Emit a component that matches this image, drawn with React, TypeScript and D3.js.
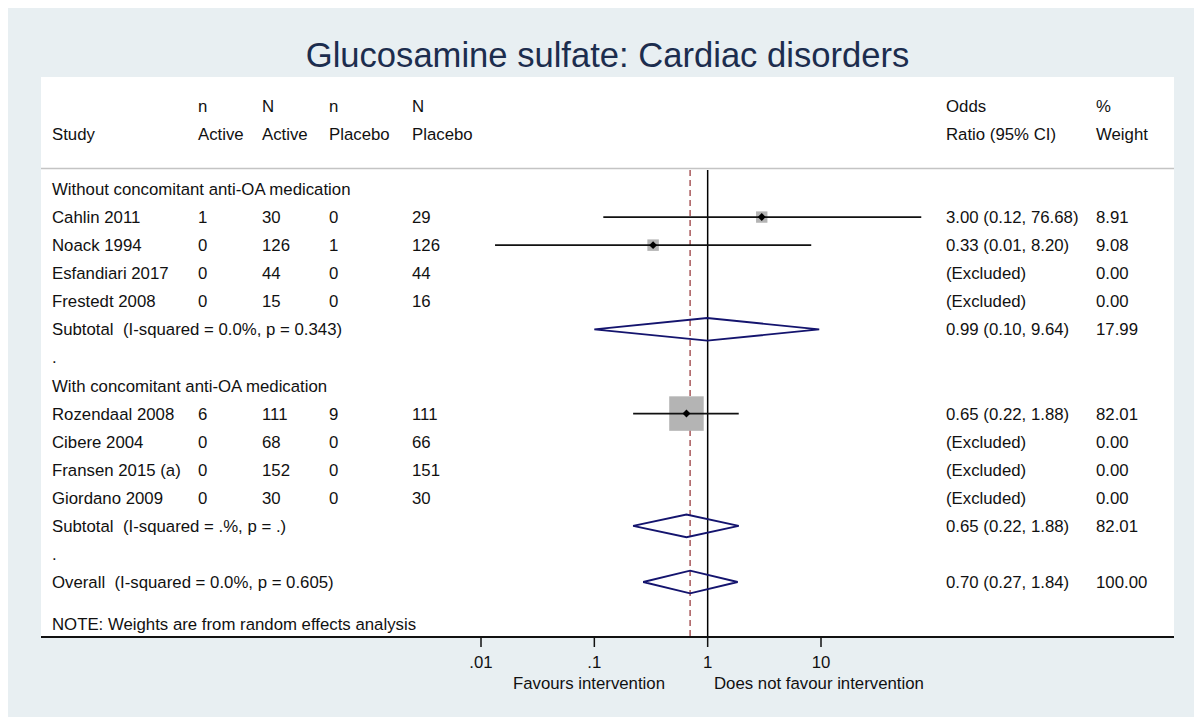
import * as React from "react";
import * as d3 from "d3";

// rows of the forest plot, top to bottom
const rowLabels: string[] = [
    "Without concomitant anti-OA medication",
    "Cahlin 2011",
    "Noack 1994",
    "Esfandiari 2017",
    "Frestedt 2008",
    "Subtotal  (I-squared = 0.0%, p = 0.343)",
    ".",
    "With concomitant anti-OA medication",
    "Rozendaal 2008",
    "Cibere 2004",
    "Fransen 2015 (a)",
    "Giordano 2009",
    "Subtotal  (I-squared = .%, p = .)",
    ".",
    "Overall  (I-squared = 0.0%, p = 0.605)"
];
const rowTypes: string[] = [
    "group", "study", "study", "study", "study", "subtotal", "gap",
    "group", "study", "study", "study", "study", "subtotal", "gap", "overall"
];
const nActive: string[] = ["", "1", "0", "0", "0", "", "", "", "6", "0", "0", "0", "", "", ""];
const bigNActive: string[] = ["", "30", "126", "44", "15", "", "", "", "111", "68", "152", "30", "", "", ""];
const nPlacebo: string[] = ["", "0", "1", "0", "0", "", "", "", "9", "0", "0", "0", "", "", ""];
const bigNPlacebo: string[] = ["", "29", "126", "44", "16", "", "", "", "111", "66", "151", "30", "", "", ""];
const oddsRatio: (number | null)[] = [null, 3.00, 0.33, null, null, 0.99, null, null, 0.65, null, null, null, 0.65, null, 0.70];
const ciLow: (number | null)[] = [null, 0.12, 0.0133, null, null, 0.10, null, null, 0.22, null, null, null, 0.22, null, 0.27];
const ciHigh: (number | null)[] = [null, 76.68, 8.20, null, null, 9.64, null, null, 1.88, null, null, null, 1.88, null, 1.84];
const orText: string[] = [
    "", "3.00 (0.12, 76.68)", "0.33 (0.01, 8.20)", "(Excluded)", "(Excluded)", "0.99 (0.10, 9.64)", "",
    "", "0.65 (0.22, 1.88)", "(Excluded)", "(Excluded)", "(Excluded)", "0.65 (0.22, 1.88)", "", "0.70 (0.27, 1.84)"
];
const weightText: string[] = [
    "", "8.91", "9.08", "0.00", "0.00", "17.99", "", "", "82.01", "0.00", "0.00", "0.00", "82.01", "", "100.00"
];
const weights: (number | null)[] = [null, 8.91, 9.08, 0, 0, 17.99, null, null, 82.01, 0, 0, 0, 82.01, null, 100];
const overallOR: number = 0.70;
const xTicks: number[] = [0.01, 0.1, 1, 10];
const xTickLabels: string[] = [".01", ".1", "1", "10"];

const font: string = "'Liberation Sans', Arial, Helvetica, sans-serif";
const bgColor: string = "#e8eff2";
const navy: string = "#14146e";
const squareGrey: string = "#b4b4b4";
const refRed: string = "#a8585a";

class ForestPlot extends React.PureComponent<{}> {
    private svgRef: React.RefObject<SVGSVGElement> = React.createRef();

    public componentDidMount(): void {
        this.drawGraph();
    }

    public render(): JSX.Element {
        return <svg ref={this.svgRef} width={1194} height={717}
            style={{ position: "fixed", left: 0, top: 0, display: "block" }} />;
    }

    private drawGraph(): void {
        const svg = d3.select(this.svgRef.current);
        svg.selectAll("*").remove();

        const plot = { left: 41, right: 1174, top: 77, bottom: 637 };
        const rowY = d3.scaleLinear().domain([0, 14]).range([189, 582]);
        const x = d3.scaleLog().domain([0.01, 10]).range([481, 821]);
        const size = d3.scaleSqrt().domain([0, 100]).range([0, 38.1]);
        const fs: number = 16.8;

        svg.append("rect").attr("x", 8).attr("y", 8).attr("width", 1186).attr("height", 709)
            .attr("fill", bgColor);
        svg.append("rect").attr("x", plot.left).attr("y", plot.top)
            .attr("width", plot.right - plot.left).attr("height", plot.bottom - plot.top)
            .attr("fill", "white");

        svg.append("text")
            .attr("x", (plot.left + plot.right) / 2).attr("y", 66.5)
            .attr("text-anchor", "middle")
            .attr("font-family", font).attr("font-size", 34.6)
            .attr("fill", "#1c2d4e")
            .text("Glucosamine sulfate: Cardiac disorders");

        const g = svg.append("g").attr("font-family", font).attr("font-size", fs).attr("fill", "#111");

        // header
        const cols: number[] = [52, 198, 262, 329, 412, 946, 1096];
        const head1: string[] = ["", "n", "N", "n", "N", "Odds", "%"];
        const head2: string[] = ["Study", "Active", "Active", "Placebo", "Placebo", "Ratio (95% CI)", "Weight"];
        cols.forEach((cx: number, i: number) => {
            g.append("text").attr("x", cx).attr("y", 111.5).text(head1[i]);
            g.append("text").attr("x", cx).attr("y", 140).text(head2[i]);
        });
        svg.append("line").attr("x1", plot.left).attr("x2", plot.right)
            .attr("y1", 168.5).attr("y2", 168.5)
            .attr("stroke", "#c4c4c4").attr("stroke-width", 1.5);

        // reference lines
        svg.append("line").attr("x1", x(1)).attr("x2", x(1)).attr("y1", 170).attr("y2", plot.bottom)
            .attr("stroke", "black").attr("stroke-width", 1.5);
        svg.append("line").attr("x1", x(overallOR)).attr("x2", x(overallOR)).attr("y1", 170).attr("y2", plot.bottom)
            .attr("stroke", refRed).attr("stroke-width", 1.5).attr("stroke-dasharray", "6,4");

        // rows
        rowLabels.forEach((label: string, i: number) => {
            const y: number = rowY(i);
            const ty: number = y + 6;
            // keep the double space that Stata puts before the heterogeneity stats
            g.append("text").attr("x", cols[0]).attr("y", ty).text(label.replace(/  /g, "\u00a0 "));
            g.append("text").attr("x", cols[1]).attr("y", ty).text(nActive[i]);
            g.append("text").attr("x", cols[2]).attr("y", ty).text(bigNActive[i]);
            g.append("text").attr("x", cols[3]).attr("y", ty).text(nPlacebo[i]);
            g.append("text").attr("x", cols[4]).attr("y", ty).text(bigNPlacebo[i]);
            g.append("text").attr("x", cols[5]).attr("y", ty).text(orText[i]);
            g.append("text").attr("x", cols[6]).attr("y", ty).text(weightText[i]);

            const est = oddsRatio[i];
            const lo = ciLow[i];
            const hi = ciHigh[i];
            if (est === null || lo === null || hi === null) {
                return;
            }
            if (rowTypes[i] === "study") {
                const s: number = size(weights[i] as number);
                svg.append("rect").attr("x", x(est) - s / 2).attr("y", y - s / 2)
                    .attr("width", s).attr("height", s).attr("fill", squareGrey);
                svg.append("line").attr("x1", x(lo)).attr("x2", x(hi)).attr("y1", y).attr("y2", y)
                    .attr("stroke", "#111").attr("stroke-width", 1.8);
                svg.append("path")
                    .attr("d", d3.symbol().type(d3.symbolDiamond2).size(40)())
                    .attr("transform", `translate(${x(est)},${y})`)
                    .attr("fill", "black");
            } else {
                const h: number = 11.3;
                const pts: [number, number][] = [[x(lo), y], [x(est), y - h], [x(hi), y], [x(est), y + h]];
                svg.append("path")
                    .attr("d", d3.line()(pts) + "Z")
                    .attr("fill", "none").attr("stroke", navy).attr("stroke-width", 1.9);
            }
        });

        g.append("text").attr("x", cols[0]).attr("y", 629.5)
            .text("NOTE: Weights are from random effects analysis");

        // x axis
        svg.append("line").attr("x1", plot.left).attr("x2", plot.right)
            .attr("y1", plot.bottom).attr("y2", plot.bottom)
            .attr("stroke", "#111").attr("stroke-width", 2);
        xTicks.forEach((t: number, i: number) => {
            svg.append("line").attr("x1", x(t)).attr("x2", x(t))
                .attr("y1", plot.bottom).attr("y2", plot.bottom + 10)
                .attr("stroke", "#111").attr("stroke-width", 1.5);
            g.append("text").attr("x", x(t)).attr("y", 668)
                .attr("text-anchor", "middle").text(xTickLabels[i]);
        });
        g.append("text").attr("x", 665).attr("y", 688.5).attr("text-anchor", "end")
            .text("Favours intervention");
        g.append("text").attr("x", 714).attr("y", 688.5)
            .text("Does not favour intervention");
    }
}

export default function App(): JSX.Element {
    return <ForestPlot />;
}
